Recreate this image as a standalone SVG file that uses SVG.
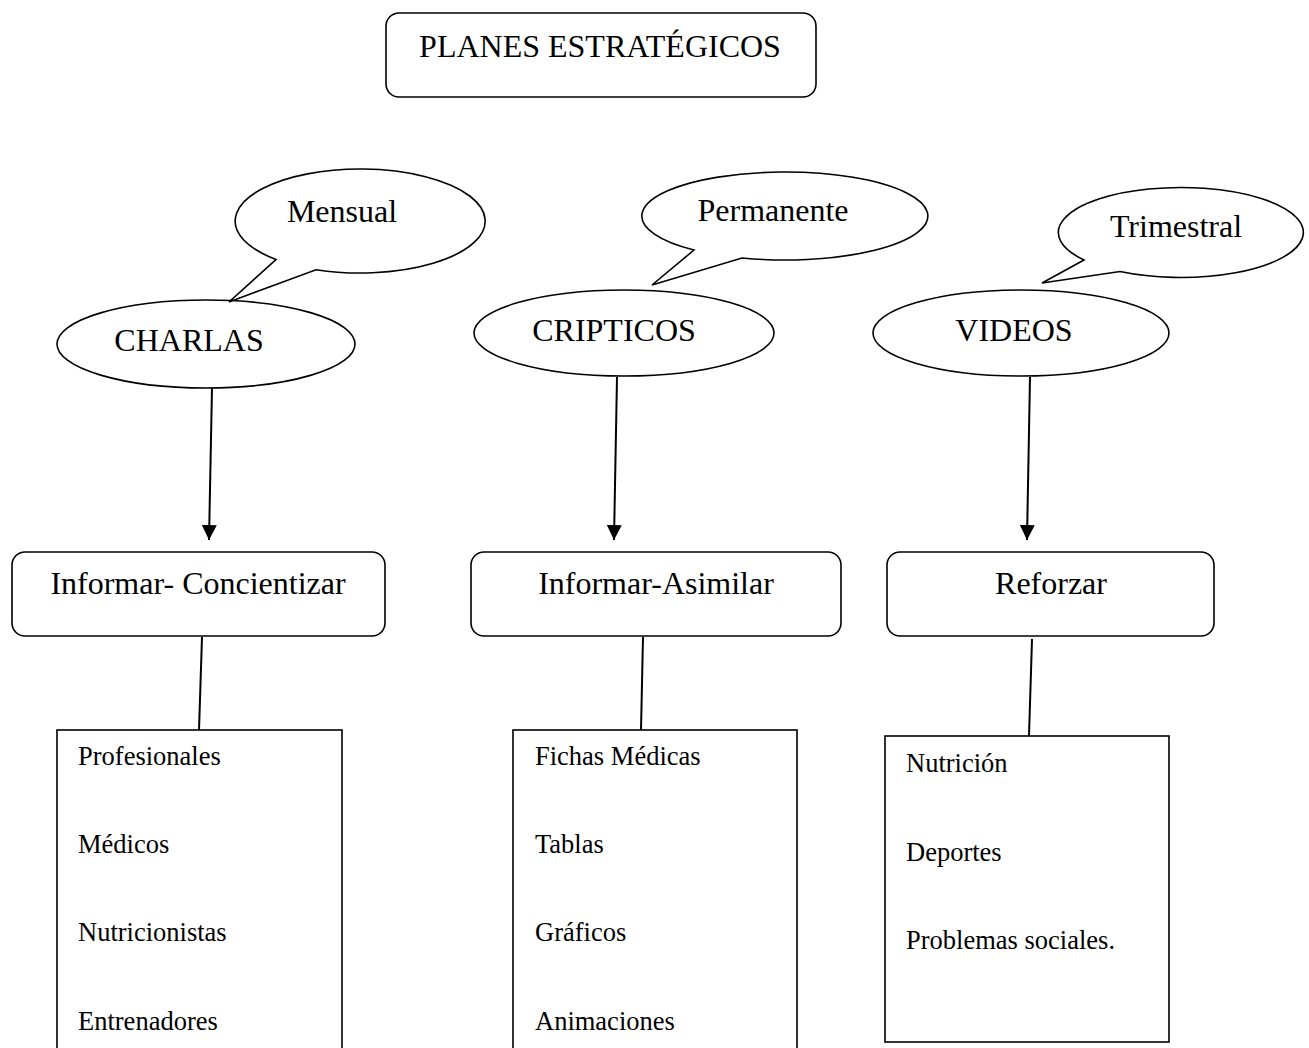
<svg xmlns="http://www.w3.org/2000/svg" width="1309" height="1048" viewBox="0 0 1309 1048">
<style>
.s{fill:#fff;stroke:#000;stroke-width:1.6}
.t{font-family:"Liberation Serif","Times New Roman",serif;font-size:32px;fill:#000}
.l{font-family:"Liberation Serif","Times New Roman",serif;font-size:26.5px;fill:#000}
.c{stroke:#000;stroke-width:2;fill:none}
.m{text-anchor:middle}
</style>
<defs>
<marker id="ah" markerWidth="16" markerHeight="16" refX="15" refY="7.5" orient="auto" markerUnits="userSpaceOnUse">
<path d="M0,0 L15,7.5 L0,15 Z" fill="#000"/>
</marker>
</defs>
<rect width="1309" height="1048" fill="#fff"/>
<g id="connectors">
<line class="c" x1="212" y1="388" x2="209" y2="540" marker-end="url(#ah)"/>
<line class="c" x1="617" y1="377" x2="614" y2="540" marker-end="url(#ah)"/>
<line class="c" x1="1030" y1="377" x2="1027" y2="540" marker-end="url(#ah)"/>
<line class="c" x1="202" y1="637" x2="199" y2="730"/>
<line class="c" x1="643" y1="637" x2="641" y2="730"/>
<line class="c" x1="1032" y1="639" x2="1029" y2="736"/>
</g>
<g id="title">
<rect class="s" x="386" y="13" width="430" height="84" rx="13"/>
<text class="t m" x="600" y="57">PLANES ESTRATÉGICOS</text>
</g>
<g id="charlas">
<ellipse class="s" cx="206" cy="344" rx="149" ry="44"/>
<text class="t m" x="189" y="351">CHARLAS</text>
</g>
<g id="mensual">
<path class="s" d="M276,259.5 A125,52 0 1 1 316,269.7 L229,302 Z"/>
<text class="t m" x="342" y="222">Mensual</text>
</g>
<g id="cripticos">
<ellipse class="s" cx="624" cy="333" rx="150" ry="43"/>
<text class="t m" x="614" y="341">CRIPTICOS</text>
</g>
<g id="permanente">
<path class="s" d="M694,250 A143,44 0 1 1 742,258 L652,285 Z"/>
<text class="t m" x="773" y="221">Permanente</text>
</g>
<g id="videos">
<ellipse class="s" cx="1021" cy="333" rx="148" ry="43"/>
<text class="t m" x="1014" y="341">VIDEOS</text>
</g>
<g id="trimestral">
<path class="s" d="M1084,260 A122.5,45 0 1 1 1120,271.5 L1042,283 Z"/>
<text class="t m" x="1176" y="237">Trimestral</text>
</g>
<g id="informar-concientizar">
<rect class="s" x="12" y="552" width="373" height="84" rx="13"/>
<text class="t m" x="198" y="594">Informar- Concientizar</text>
</g>
<g id="informar-asimilar">
<rect class="s" x="471" y="552" width="370" height="84" rx="13"/>
<text class="t m" x="656" y="594">Informar-Asimilar</text>
</g>
<g id="reforzar">
<rect class="s" x="887" y="552" width="327" height="84" rx="13"/>
<text class="t m" x="1051" y="594">Reforzar</text>
</g>
<g id="lista-charlas">
<rect class="s" x="57" y="730" width="285" height="340"/>
<text class="l" x="78" y="765">Profesionales</text>
<text class="l" x="78" y="853">Médicos</text>
<text class="l" x="78" y="941">Nutricionistas</text>
<text class="l" x="78" y="1030">Entrenadores</text>
</g>
<g id="lista-cripticos">
<rect class="s" x="513" y="730" width="284" height="340"/>
<text class="l" x="535" y="765">Fichas Médicas</text>
<text class="l" x="535" y="853">Tablas</text>
<text class="l" x="535" y="941">Gráficos</text>
<text class="l" x="535" y="1030">Animaciones</text>
</g>
<g id="lista-videos">
<rect class="s" x="885" y="736" width="284" height="306"/>
<text class="l" x="906" y="772">Nutrición</text>
<text class="l" x="906" y="861">Deportes</text>
<text class="l" x="906" y="949">Problemas sociales.</text>
</g>
</svg>
